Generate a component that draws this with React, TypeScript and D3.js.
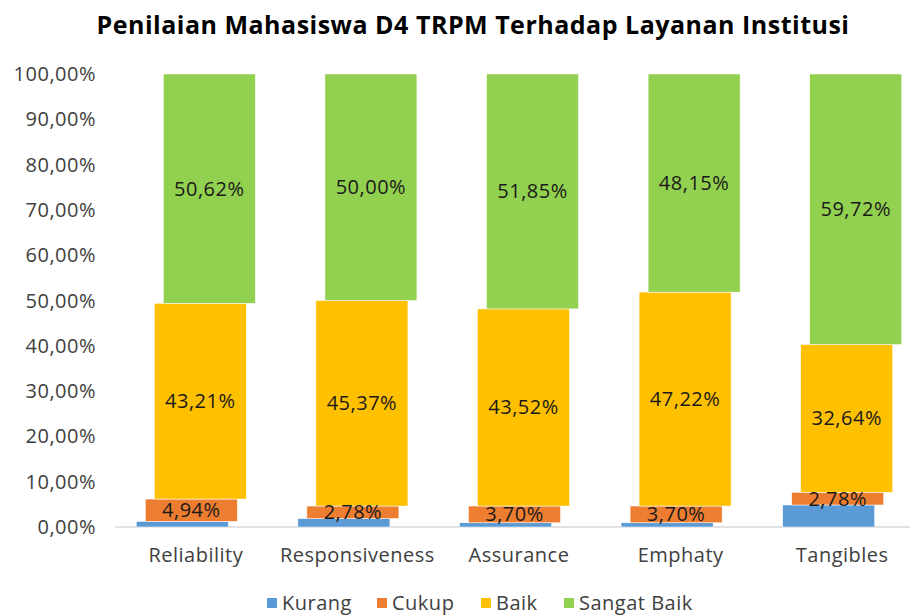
import React from 'react'
import * as d3 from 'd3'

const categories = ['Reliability', 'Responsiveness', 'Assurance', 'Emphaty', 'Tangibles']
const seriesNames = ['Kurang', 'Cukup', 'Baik', 'Sangat Baik']
const colors = ['#5B9BD5', '#ED7D31', '#FFC000', '#92D050']

const kurang = [1.23, 1.85, 0.93, 0.93, 4.86]
const cukup = [4.94, 2.78, 3.7, 3.7, 2.78]
const baik = [43.21, 45.37, 43.52, 47.22, 32.64]
const sangatBaik = [50.62, 50.0, 51.85, 48.15, 59.72]
const showLabel = [false, true, true, true]

const yTicks = [0, 10, 20, 30, 40, 50, 60, 70, 80, 90, 100]

const W = 910
const H = 615
const margin = { top: 74, right: -13, bottom: 88, left: 115 }
const font = '"Open Sans", sans-serif'
const ls = 0.5
const fmt = (v: number) => v.toFixed(2).replace('.', ',') + '%'

export default function App() {
  const series = [kurang, cukup, baik, sangatBaik]
  const x = d3.scaleBand().domain(categories).range([margin.left, W - margin.right]).padding(0)
  const y = d3.scaleLinear().domain([0, 100]).range([H - margin.bottom, margin.top])
  const barW = 92
  const shift = 9
  const offsets = [-1.5, -0.5, 0.5, 1.5].map(k => k * shift)

  // cumulative starts per category
  const stacks = categories.map((_, ci) => {
    let acc = 0
    return series.map(s => {
      const y0 = acc
      acc += s[ci]
      return [y0, acc]
    })
  })

  const legendX = [267, 377, 481, 564]

  return (
    <svg width={W} height={H} style={{ position: 'absolute', left: 0, top: 0, background: '#fff' }}>
      <text x={473} y={34} textAnchor="middle" fontFamily={font} fontWeight={700} fontSize={25}
        letterSpacing={ls} fill="#000">
        Penilaian Mahasiswa D4 TRPM Terhadap Layanan Institusi
      </text>

      {yTicks.map(t => (
        <text key={t} x={96} y={y(t)} dy="0.35em" textAnchor="end" fontFamily={font} fontSize={20}
          letterSpacing={ls} fill="#404040">
          {fmt(t)}
        </text>
      ))}

      <line x1={margin.left} x2={W} y1={y(0)} y2={y(0)} stroke="#D9D9D9" strokeWidth={1.5} />

      {categories.map((c, ci) => {
        const cx = (x(c) as number) + x.bandwidth() / 2
        return (
          <g key={c}>
            {series.map((s, si) => {
              const [a, b] = stacks[ci][si]
              const bx = cx + offsets[si] - barW / 2
              return (
                <rect key={si} x={bx} y={y(b)} width={barW} height={y(a) - y(b)} fill={colors[si]}
                  stroke="#fff" strokeWidth={0.5} />
              )
            })}
            {series.map((s, si) => {
              if (!showLabel[si]) return null
              const [a, b] = stacks[ci][si]
              return (
                <text key={'l' + si} x={cx + offsets[si]} y={y((a + b) / 2)} dy="0.35em" textAnchor="middle"
                  fontFamily={font} fontSize={20} letterSpacing={ls} fill="#1a1a1a">
                  {fmt(s[ci])}
                </text>
              )
            })}
            <text x={cx} y={y(0) + 28} dy="0.35em" textAnchor="middle" fontFamily={font} fontSize={20}
              letterSpacing={ls} fill="#404040">
              {c}
            </text>
          </g>
        )
      })}

      {seriesNames.map((n, i) => (
        <g key={n} transform={`translate(${legendX[i]},603)`}>
          <rect x={0} y={-5} width={10} height={10} fill={colors[i]} />
          <text x={15} y={0} dy="0.35em" fontFamily={font} fontSize={20} letterSpacing={ls} fill="#404040">{n}</text>
        </g>
      ))}
    </svg>
  )
}
